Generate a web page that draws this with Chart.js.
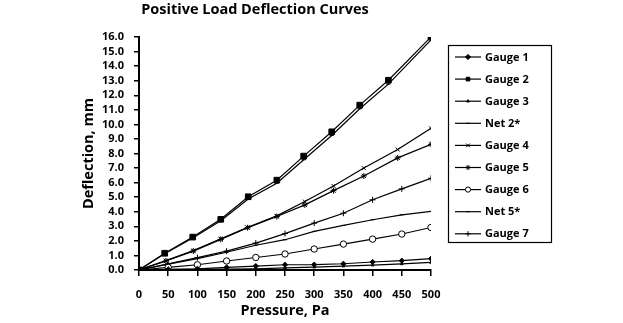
<!DOCTYPE html>
<html>
<head>
<meta charset="utf-8">
<script src="https://cdn.jsdelivr.net/npm/chart.js@4/dist/chart.umd.min.js"></script>
<style>
  html, body { margin: 0; padding: 0; background: #fff; }
  #wrap { width: 623px; height: 323px; position: relative; }
</style>
</head>
<body>
<div id="wrap"><canvas id="c" width="623" height="323"></canvas></div>
<script>
// ---- data ----
const chartTitle = "Positive Load Deflection Curves";
const xTitle = "Pressure, Pa";
const yTitle = "Deflection, mm";
const seriesNames = ["Gauge 1", "Gauge 2", "Gauge 3", "Net 2*", "Gauge 4", "Gauge 5", "Gauge 6", "Net 5*", "Gauge 7"];

const pressure    = [0, 50, 100, 150, 200, 250, 300, 350, 400, 450, 500];
const pressureG2  = [0, 44, 92, 140, 187, 236, 282, 330, 378, 427, 500];
const pressureG45 = [0, 46, 93, 140, 186, 236, 284, 333, 385, 443, 500];

const gauge1 = [0, 0.05, 0.08, 0.18, 0.27, 0.36, 0.37, 0.43, 0.55, 0.64, 0.78];
const gauge2 = [0, 1.15, 2.26, 3.48, 5.03, 6.17, 7.82, 9.49, 11.32, 13.03, 16.0];
const gauge3 = [0, 0.02, 0.04, 0.06, 0.08, 0.14, 0.20, 0.27, 0.34, 0.42, 0.52];
const net2   = [0, 1.12, 2.20, 3.38, 4.88, 5.96, 7.57, 9.24, 11.07, 12.76, 15.8];
const gauge4 = [0, 0.64, 1.33, 2.15, 2.93, 3.72, 4.70, 5.77, 7.00, 8.27, 9.73];
const gauge5 = [0, 0.62, 1.30, 2.10, 2.90, 3.67, 4.47, 5.45, 6.46, 7.70, 8.63];
const gauge6 = [0, 0.18, 0.36, 0.62, 0.86, 1.10, 1.44, 1.78, 2.12, 2.47, 2.92];
const net5   = [0, 0.40, 0.78, 1.22, 1.70, 2.08, 2.65, 3.06, 3.45, 3.79, 4.02];
const gauge7 = [0, 0.42, 0.85, 1.30, 1.85, 2.50, 3.22, 3.90, 4.82, 5.57, 6.30];

const xTicks = [0, 50, 100, 150, 200, 250, 300, 350, 400, 450, 500];
const yTicks = [0, 1, 2, 3, 4, 5, 6, 7, 8, 9, 10, 11, 12, 13, 14, 15, 16];

// ---- build ----
const pts = (xs, ys) => xs.map((x, i) => ({ x: x, y: ys[i] }));
const FONT = "'Open Sans', 'DejaVu Sans', sans-serif";

const styles = [
  { pointStyle: 'rectRot', pointRadius: 2.6, bg: '#000' },
  { pointStyle: 'rect', pointRadius: 4.0, bg: '#000' },
  { pointStyle: 'triangle', pointRadius: 1.6, bg: '#000' },
  { pointStyle: 'line', pointRadius: 2, bg: '#000' },
  { pointStyle: 'crossRot', pointRadius: 2.8, bg: '#000' },
  { pointStyle: 'star', pointRadius: 3.0, bg: '#000' },
  { pointStyle: 'circle', pointRadius: 3.2, bg: '#fff' },
  { pointStyle: 'line', pointRadius: 2, bg: '#000' },
  { pointStyle: 'cross', pointRadius: 3.0, bg: '#000' }
];
const seriesData = [
  pts(pressure, gauge1), pts(pressureG2, gauge2), pts(pressure, gauge3), pts(pressureG2, net2),
  pts(pressureG45, gauge4), pts(pressureG45, gauge5), pts(pressure, gauge6), pts(pressure, net5), pts(pressure, gauge7)
];

const datasets = seriesNames.map((name, i) => ({
  label: name,
  data: seriesData[i],
  showLine: true,
  borderColor: '#000',
  borderWidth: 1.2,
  backgroundColor: styles[i].bg,
  pointBackgroundColor: styles[i].bg,
  pointBorderColor: '#000',
  pointBorderWidth: 1,
  pointStyle: styles[i].pointStyle,
  pointRadius: styles[i].pointRadius,
  pointHoverRadius: styles[i].pointRadius,
  tension: 0
}));

const LEFT = 139, TOP = 37, RIGHT = 431, BOTTOM = 270, W = 623, H = 323;
const padLeft = 72;

const extras = {
  id: 'extras',
  afterDraw(chart) {
    const ctx = chart.ctx;
    ctx.save();
    // title
    ctx.fillStyle = '#000';
    ctx.font = "bold 14.5px " + FONT;
    ctx.textAlign = 'center';
    ctx.textBaseline = 'middle';
    ctx.fillText(chartTitle, 255, 10);
    // legend
    const bx = 448.5, by = 45.5, bw = 103, bh = 197;
    ctx.strokeStyle = '#000';
    ctx.lineWidth = 1.2;
    ctx.strokeRect(bx, by, bw, bh);
    ctx.font = "bold 11px " + FONT;
    ctx.textAlign = 'left';
    chart.data.datasets.forEach((ds, i) => {
      const y = 57 + i * 22.1;
      ctx.beginPath();
      ctx.strokeStyle = '#000';
      ctx.lineWidth = 1.2;
      ctx.moveTo(455, y);
      ctx.lineTo(481, y);
      ctx.stroke();
      ctx.fillStyle = ds.pointBackgroundColor;
      ctx.strokeStyle = '#000';
      ctx.lineWidth = 1;
      Chart.helpers.drawPoint(ctx, { pointStyle: ds.pointStyle, rotation: 0, borderWidth: 1, radius: Math.min(ds.pointRadius, 2.6) }, 468, y);
      ctx.fillStyle = '#000';
      ctx.fillText(ds.label, 485, y + 0.5);
    });
    ctx.restore();
  }
};

new Chart(document.getElementById('c'), {
  type: 'scatter',
  data: { datasets },
  options: {
    responsive: false,
    animation: false,
    events: [],
    layout: { padding: { left: padLeft, right: W - RIGHT, top: TOP, bottom: 3 } },
    plugins: { legend: { display: false }, title: { display: false }, tooltip: { enabled: false } },
    scales: {
      x: {
        type: 'linear', min: 0, max: 500,
        afterBuildTicks: (s) => { s.ticks = xTicks.map(v => ({ value: v })); },
        afterFit: (s) => { s.height = H - BOTTOM - 3; },
        border: { display: true, color: '#000', width: 2 },
        grid: { drawOnChartArea: false, drawTicks: true, tickLength: 6, color: '#000', lineWidth: 1.5 },
        ticks: { color: '#000', font: { family: FONT, size: 11, weight: 'bold' }, padding: 12, maxRotation: 0, autoSkip: false },
        title: { display: true, text: xTitle, color: '#000', font: { family: FONT, size: 14.5, weight: 'bold' }, padding: { top: 0, bottom: 0 } }
      },
      y: {
        type: 'linear', min: 0, max: 16,
        afterBuildTicks: (s) => { s.ticks = yTicks.map(v => ({ value: v })); },
        ticks: { color: '#000', font: { family: FONT, size: 11, weight: 'bold' }, padding: 10, autoSkip: false,
                 callback: (v) => Number(v).toFixed(1) },
        afterFit: (s) => { s.width = LEFT - padLeft; },
        border: { display: true, color: '#000', width: 2 },
        grid: { drawOnChartArea: false, drawTicks: true, tickLength: 5, color: '#000', lineWidth: 1.5 },
        title: { display: true, text: yTitle, color: '#000', font: { family: FONT, size: 14.5, weight: 'bold' }, padding: { top: 8, bottom: 0 } }
      }
    }
  },
  plugins: [extras]
});
</script>
</body>
</html>
